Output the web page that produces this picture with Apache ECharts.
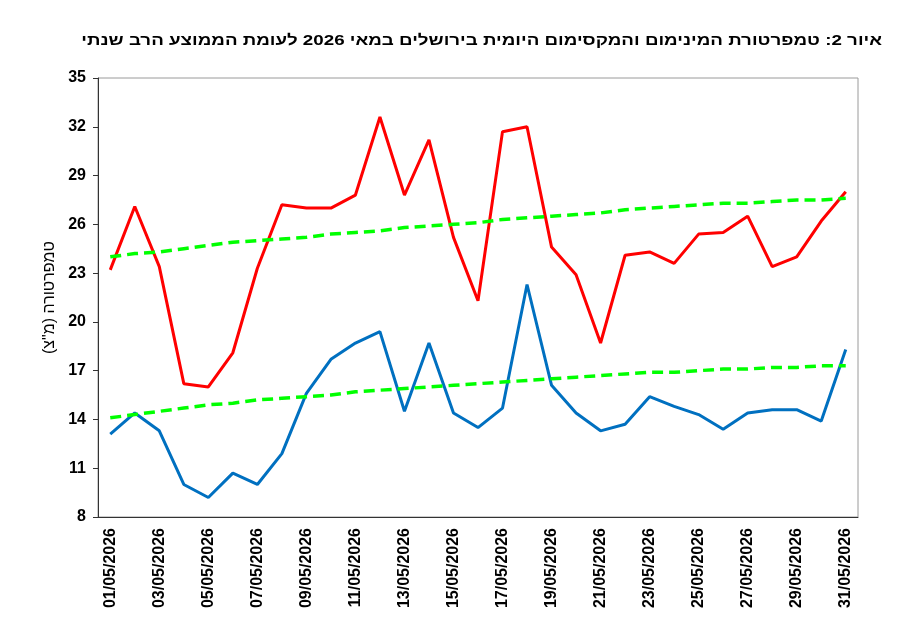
<!DOCTYPE html>
<html>
<head>
<meta charset="UTF-8"/>
<script src="https://cdn.jsdelivr.net/npm/echarts@6/dist/echarts.min.js"></script>
<style>
  html, body { margin: 0; padding: 0; background: #fff; }
  #c { width: 918px; height: 628px; }
</style>
</head>
<body>
<div id="c"></div>
<script>
// ימים במאי 2026
const days = [];
for (let d = 1; d <= 31; d++) days.push(String(d).padStart(2, "0") + "/05/2026");

// טמפרטורת מקסימום יומית
const maxTemp = [23.2, 27.1, 23.4, 16.2, 16.0, 18.1, 23.3, 27.2, 27.0, 27.0,
                 27.8, 32.6, 27.8, 31.2, 25.2, 21.3, 31.7, 32.0, 24.6, 22.9,
                 18.7, 24.1, 24.3, 23.6, 25.4, 25.5, 26.5, 23.4, 24.0, 26.2, 28.0];
// טמפרטורת מינימום יומית
const minTemp = [13.1, 14.4, 13.3, 10.0, 9.2, 10.7, 10.0, 11.9, 15.6, 17.7,
                 18.7, 19.4, 14.5, 18.7, 14.4, 13.5, 14.7, 22.3, 16.1, 14.4,
                 13.3, 13.7, 15.4, 14.8, 14.3, 13.4, 14.4, 14.6, 14.6, 13.9, 18.3];
// ממוצע רב שנתי
const avgMax = [24.0, 24.2, 24.3, 24.5, 24.7, 24.9, 25.0, 25.1, 25.2, 25.4,
                25.5, 25.6, 25.8, 25.9, 26.0, 26.1, 26.3, 26.4, 26.5, 26.6,
                26.7, 26.9, 27.0, 27.1, 27.2, 27.3, 27.3, 27.4, 27.5, 27.5, 27.6];
const avgMin = [14.1, 14.3, 14.5, 14.7, 14.9, 15.0, 15.2, 15.3, 15.4, 15.5,
                15.7, 15.8, 15.9, 16.0, 16.1, 16.2, 16.3, 16.4, 16.5, 16.6,
                16.7, 16.8, 16.9, 16.9, 17.0, 17.1, 17.1, 17.2, 17.2, 17.3, 17.3];

const yMin = 8, yMax = 35, yStep = 3;
const titleText = "איור 2: טמפרטורת המינימום והמקסימום היומית בירושלים במאי 2026 לעומת הממוצע הרב שנתי";
const FONT = "Liberation Sans, Arial, sans-serif";

const chart = echarts.init(document.getElementById("c"), null, { renderer: "canvas" });

const lineSeries = (data, color, width, type, z) => ({
  type: "line",
  data,
  symbol: "none",
  z,
  lineStyle: { color, width, type },
  emphasis: { disabled: true }
});

chart.setOption({
  animation: false,
  textStyle: { fontFamily: FONT },
  // הכותרת במקור מתוחה לרוחב
  graphic: [{
    type: "text",
    x: 882, y: 41,
    scaleX: 1.25,
    silent: true,
    style: {
      text: titleText,
      font: "bold 15px " + FONT,
      fill: "#000",
      align: "right",
      verticalAlign: "middle"
    }
  }],
  grid: {
    left: 98, right: 60, top: 78, bottom: 111,
    show: true, borderColor: "#9a9a9a", borderWidth: 1
  },
  xAxis: {
    type: "category",
    data: days,
    boundaryGap: true,
    axisLine: { lineStyle: { color: "#333", width: 1 } },
    axisTick: { interval: 1, length: 5, lineStyle: { color: "#333" } },
    axisLabel: {
      interval: 1, rotate: 90, margin: 11,
      fontSize: 16, fontWeight: "bold", color: "#000"
    },
    splitLine: { show: false }
  },
  yAxis: {
    type: "value",
    min: yMin, max: yMax, interval: yStep,
    name: "טמפרטורה (מ\"צ)\u200F",
    nameLocation: "middle",
    nameGap: 40,
    nameTextStyle: { fontSize: 16, color: "#000" },
    axisLine: { show: true, lineStyle: { color: "#333", width: 1 } },
    axisTick: { show: true, length: 5, lineStyle: { color: "#333" } },
    axisLabel: { fontSize: 16, fontWeight: "bold", color: "#000", margin: 12 },
    splitLine: { show: false }
  },
  series: [
    lineSeries(maxTemp, "#ff0000", 3, "solid", 2),
    lineSeries(minTemp, "#0070c0", 3, "solid", 2),
    lineSeries(avgMax, "#00ff00", 3.5, [11, 6], 3),
    lineSeries(avgMin, "#00ff00", 3.5, [11, 6], 3)
  ]
});
</script>
</body>
</html>
